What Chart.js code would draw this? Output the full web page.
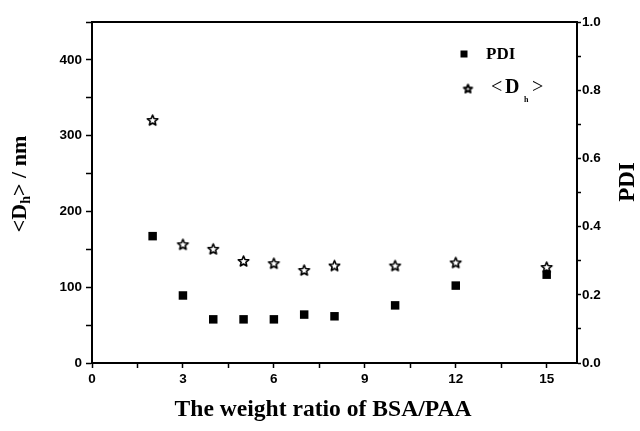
<!DOCTYPE html>
<html>
<head>
<meta charset="utf-8">
<script src="https://cdn.jsdelivr.net/npm/chart.js@4.4.1/dist/chart.umd.min.js"></script>
<style>
  html, body { margin: 0; padding: 0; background: #fff; }
  #wrap { width: 640px; height: 431px; }
</style>
</head>
<body>
<div id="wrap"><canvas id="myChart" width="640" height="431"></canvas></div>
<script>
// weight ratio BSA/PAA
var ratio = [2, 3, 4, 5, 6, 7, 8, 10, 12, 15];
// hydrodynamic diameter <Dh>, nm (left axis)
var dh = [320, 156, 150, 134, 131, 122, 128, 128, 132, 126];
// polydispersity index (right axis)
var pdi = [0.372, 0.198, 0.128, 0.128, 0.128, 0.142, 0.137, 0.169, 0.227, 0.259];

var xTicks = [0, 1.5, 3, 4.5, 6, 7.5, 9, 10.5, 12, 13.5, 15];
var dhTicks = [0, 50, 100, 150, 200, 250, 300, 350, 400, 450];
var pdiTicks = [0, 0.1, 0.2, 0.3, 0.4, 0.5, 0.6, 0.7, 0.8, 0.9, 1.0];

function points(xs, ys) {
  return xs.map(function (x, i) { return { x: x, y: ys[i] }; });
}

// outlined five point star used as the <Dh> marker
function makeStar(r, lw) {
  var c = document.createElement('canvas');
  var s = Math.ceil(2 * r + 2 * lw);
  c.width = s; c.height = s;
  var g = c.getContext('2d');
  g.beginPath();
  for (var i = 0; i < 10; i++) {
    var rad = i % 2 === 0 ? r : r * 0.45;
    var a = -Math.PI / 2 + i * Math.PI / 5;
    var px = s / 2 + rad * Math.cos(a), py = s / 2 + rad * Math.sin(a);
    if (i === 0) g.moveTo(px, py); else g.lineTo(px, py);
  }
  g.closePath();
  g.lineJoin = 'round';
  g.lineWidth = lw;
  g.strokeStyle = '#000';
  g.stroke();
  return c;
}
var star = makeStar(5.5, 1.6);
var smallStar = makeStar(4.3, 2);

var serif = '"Liberation Serif", "Times New Roman", serif';
var sans = '"Liberation Sans", Arial, sans-serif';

function fitFont(ctx, text, weight, target) {
  ctx.font = weight + ' 20px ' + serif;
  return 20 * target / ctx.measureText(text).width;
}

var extras = {
  id: 'extras',
  afterDraw: function (chart) {
    var ctx = chart.ctx, a = chart.chartArea;
    ctx.save();
    // top frame line
    ctx.strokeStyle = '#000';
    ctx.lineWidth = 2;
    ctx.beginPath();
    ctx.moveTo(a.left, a.top);
    ctx.lineTo(a.right, a.top);
    ctx.stroke();

    ctx.fillStyle = '#000';
    ctx.textBaseline = 'middle';

    // x title
    var xt = 'The weight ratio of BSA/PAA';
    var fs = fitFont(ctx, xt, 'bold', 297);
    ctx.font = 'bold ' + fs + 'px ' + serif;
    ctx.textAlign = 'center';
    ctx.fillText(xt, 323, 410);

    // left title <Dh> / nm
    ctx.save();
    ctx.translate(20, 184);
    ctx.rotate(-Math.PI / 2);
    var big = 'bold 22px ' + serif, sub = 'bold 14px ' + serif;
    ctx.font = big;
    var w1 = ctx.measureText('<D').width;
    var w3 = ctx.measureText('> / nm').width;
    ctx.font = sub;
    var w2 = ctx.measureText('h').width;
    var x0 = -(w1 + w2 + w3) / 2;
    ctx.textAlign = 'left';
    ctx.font = big;
    ctx.fillText('<D', x0, 0);
    ctx.font = sub;
    ctx.fillText('h', x0 + w1, 6);
    ctx.font = big;
    ctx.fillText('> / nm', x0 + w1 + w2, 0);
    ctx.restore();

    // right title PDI
    ctx.save();
    ctx.translate(628, 182);
    ctx.rotate(-Math.PI / 2);
    ctx.textAlign = 'center';
    ctx.font = 'bold 23px ' + serif;
    ctx.fillText('PDI', 0, 0);
    ctx.restore();

    // legend
    ctx.fillRect(460.5, 50.5, 7, 7);
    ctx.textAlign = 'left';
    ctx.font = 'bold 17px ' + serif;
    ctx.fillText('PDI', 486, 55);
    ctx.drawImage(smallStar, 468 - smallStar.width / 2, 89 - smallStar.height / 2);
    ctx.font = '20px ' + serif;
    ctx.fillText('<', 491, 88);
    ctx.font = 'bold 20px ' + serif;
    ctx.fillText('D', 505, 88);
    ctx.font = 'bold 8px ' + serif;
    ctx.fillText('h', 524, 100);
    ctx.font = '20px ' + serif;
    ctx.fillText('>', 532, 88);
    ctx.restore();
  }
};

var tickFont = { family: sans, size: 13.5, weight: 'bold' };

new Chart(document.getElementById('myChart'), {
  type: 'scatter',
  data: {
    datasets: [{
      label: 'PDI',
      data: points(ratio, pdi),
      yAxisID: 'yR',
      pointStyle: 'rect',
      radius: 6,
      backgroundColor: '#000',
      borderColor: '#000',
      borderWidth: 0
    }, {
      label: '<Dh>',
      data: points(ratio, dh),
      yAxisID: 'yL',
      pointStyle: star,
      radius: 6
    }]
  },
  options: {
    responsive: false,
    animation: false,
    events: [],
    layout: { padding: { top: 22, left: 0, right: 0, bottom: 0 } },
    plugins: { legend: { display: false }, tooltip: { enabled: false } },
    scales: {
      x: {
        type: 'linear',
        min: 0, max: 16,
        afterBuildTicks: function (s) { s.ticks = xTicks.map(function (v) { return { value: v }; }); },
        afterFit: function (s) { s.height = 68; },
        grid: { drawOnChartArea: false, tickLength: 5, tickWidth: 1.5, tickColor: '#000' },
        border: { color: '#000', width: 2 },
        ticks: {
          color: '#000', font: tickFont, padding: 3, maxRotation: 0, autoSkip: false,
          callback: function (v) { return v % 3 === 0 ? String(v) : ''; }
        }
      },
      yL: {
        type: 'linear',
        position: 'left',
        min: 0, max: 450,
        afterBuildTicks: function (s) { s.ticks = dhTicks.map(function (v) { return { value: v }; }); },
        afterFit: function (s) { s.width = 92; },
        grid: { drawOnChartArea: false, tickLength: 6, tickWidth: 1.5, tickColor: '#000' },
        border: { color: '#000', width: 2 },
        ticks: {
          color: '#000', font: tickFont, padding: 4, autoSkip: false,
          callback: function (v) { return v % 100 === 0 ? String(v) : ''; }
        }
      },
      yR: {
        type: 'linear',
        position: 'right',
        min: 0, max: 1,
        afterBuildTicks: function (s) { s.ticks = pdiTicks.map(function (v) { return { value: v }; }); },
        afterFit: function (s) { s.width = 63; },
        grid: { drawOnChartArea: false, tickLength: 4, tickWidth: 1.5, tickColor: '#000' },
        border: { color: '#000', width: 2 },
        ticks: {
          color: '#000', font: tickFont, padding: 1, autoSkip: false,
          callback: function (v) {
            var r = Math.round(v * 10);
            return r % 2 === 0 ? (r / 10).toFixed(1) : '';
          }
        }
      }
    }
  },
  plugins: [extras]
});
</script>
</body>
</html>
